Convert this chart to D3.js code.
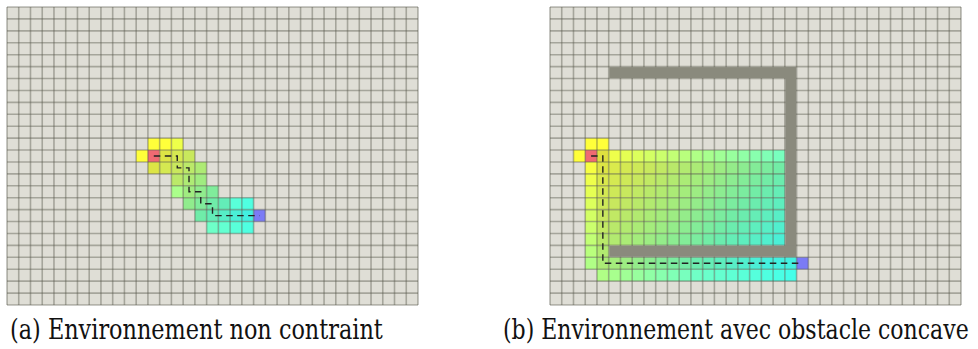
<!DOCTYPE html>
<html lang="fr">
<head>
  <meta charset="UTF-8" />
  <title>Exploration A* sur grille</title>
  <style>
    body { margin: 0; background: #fff; }
    svg { display: block; }
  </style>
</head>
<body>
  <div id="chart"></div>

  <script src="https://cdn.jsdelivr.net/npm/d3@7"></script>
  <script>
    const width = 978;
    const height = 349;
    const nCols = 35;
    const nRows = 25;

    // explored cells, one entry per grid row:
    // [row, first column, distance to goal of each cell, state of each cell]
    // state: o = open, c = closed, s = start, g = goal
    const exploredA = [
      [11, 12, [15, 14, 13], 'ooo'],
      [12, 11, [15, 14, 13, 12, 11], 'osccc'],
      [13, 12, [13, 12, 11, 10, 9], 'ccccc'],
      [14, 14, [10, 9, 8], 'ccc'],
      [15, 14, [9, 8, 7, 6], 'occc'],
      [16, 15, [7, 6, 5, 4, 3, 2], 'ccccoo'],
      [17, 16, [5, 4, 3, 2, 1, 0], 'cccccg'],
      [18, 17, [5, 4, 3, 2], 'oooo']
    ];
    const pathA = [[12, 12], [14, 12], [14, 13], [15, 13], [15, 15], [16, 15], [16, 16], [17, 16], [17, 17], [21, 17]];

    const exploredB = [
      [11, 3, [28, 27], 'oo'],
      [12, 2, [28, 27, 26, 25, 24, 23, 22, 21, 20, 19, 18, 17, 16, 15, 14, 13, 12, 11], 'oscooooooooooooooo'],
      [13, 3, [26, 25, 24, 23, 22, 21, 20, 19, 18, 17, 16, 15, 14, 13, 12, 11, 10], 'occcccccccccccccc'],
      [14, 3, [25, 24, 23, 22, 21, 20, 19, 18, 17, 16, 15, 14, 13, 12, 11, 10, 9], 'occcccccccccccccc'],
      [15, 3, [24, 23, 22, 21, 20, 19, 18, 17, 16, 15, 14, 13, 12, 11, 10, 9, 8], 'occcccccccccccccc'],
      [16, 3, [23, 22, 21, 20, 19, 18, 17, 16, 15, 14, 13, 12, 11, 10, 9, 8, 7], 'occcccccccccccccc'],
      [17, 3, [22, 21, 20, 19, 18, 17, 16, 15, 14, 13, 12, 11, 10, 9, 8, 7, 6], 'occcccccccccccccc'],
      [18, 3, [21, 20, 19, 18, 17, 16, 15, 14, 13, 12, 11, 10, 9, 8, 7, 6, 5], 'occcccccccccccccc'],
      [19, 3, [20, 19, 18, 17, 16, 15, 14, 13, 12, 11, 10, 9, 8, 7, 6, 5, 4], 'occcccccccccccccc'],
      [20, 3, [19, 18], 'oc'],
      [21, 3, [18, 17, 16, 15, 14, 13, 12, 11, 10, 9, 8, 7, 6, 5, 4, 3, 2, 1, 0], 'occcccccccccccccccg'],
      [22, 4, [18, 17, 16, 15, 14, 13, 12, 11, 10, 9, 8, 7, 6, 5, 4, 3, 2], 'ooooooooooooooooo']
    ];
    // obstacle bars: [col0, row0, col1, row1] (inclusive)
    const obstacleB = [[5, 5, 20, 5], [20, 5, 20, 20], [5, 20, 20, 20]];
    const pathB = [[3, 12], [4, 12], [4, 21], [21, 21]];

    const captions = ['(a) Environnement non contraint', '(b) Environnement avec obstacle concave'];

    // colour = remaining distance / start distance (1 at start, 0 at goal)
    const openColor = d3.scaleLinear()
      .domain([1, 0.64, 0.36, 0])
      .range(['#ffff3a', '#aaff8c', '#6effc8', '#3afff2'])
      .clamp(true);
    const closedColor = d3.scaleLinear()
      .domain([1, 0.9, 0.78, 0.57, 0.36, 0.1])
      .range(['#e0da38', '#dcea4a', '#c8e85e', '#a0ec80', '#70eca8', '#42f0e0'])
      .clamp(true);

    const panels = [
      { x0: 7, x1: 418, explored: exploredA, path: pathA, obstacles: [], caption: captions[0], captionX: 10, captionW: 373 },
      { x0: 550, x1: 961, explored: exploredB, path: pathB, obstacles: obstacleB, caption: captions[1], captionX: 503, captionW: 466 }
    ];

    const svg = d3.select('#chart')
      .append('svg')
      .attr('width', width)
      .attr('height', height);

    svg.append('rect')
      .attr('width', width)
      .attr('height', height)
      .attr('fill', '#fff');

    panels.forEach(p => {
      const g = svg.append('g');
      const x = d3.scaleLinear().domain([0, nCols]).range([p.x0, p.x1]);
      const y = d3.scaleLinear().domain([0, nRows]).range([7, 305]);

      const cells = [];
      p.explored.forEach(([row, c0, dists, states]) => {
        dists.forEach((d, i) => cells.push({ col: c0 + i, row, dist: d, state: states[i] || 'c' }));
      });
      const dStart = cells.find(c => c.state === 's').dist;

      g.append('rect')
        .attr('x', x(0))
        .attr('y', y(0))
        .attr('width', x(nCols) - x(0))
        .attr('height', y(nRows) - y(0))
        .attr('fill', '#dfded6');

      g.selectAll('rect.cell')
        .data(cells)
        .join('rect')
        .attr('class', 'cell')
        .attr('x', d => x(d.col))
        .attr('y', d => y(d.row))
        .attr('width', x(1) - x(0))
        .attr('height', y(1) - y(0))
        .attr('fill', d => {
          if (d.state === 's') return '#f06a72';
          if (d.state === 'g') return '#7b7bf6';
          const r = d.dist / dStart;
          return d.state === 'o' ? openColor(r) : closedColor(r);
        });

      // grid
      g.selectAll('line.v')
        .data(d3.range(nCols + 1))
        .join('line')
        .attr('class', 'v')
        .attr('x1', d => x(d)).attr('x2', d => x(d))
        .attr('y1', y(0)).attr('y2', y(nRows))
        .attr('stroke', '#55554a')
        .attr('stroke-opacity', 0.42)
        .attr('stroke-width', 1.6);
      g.selectAll('line.h')
        .data(d3.range(nRows + 1))
        .join('line')
        .attr('class', 'h')
        .attr('x1', x(0)).attr('x2', x(nCols))
        .attr('y1', d => y(d)).attr('y2', d => y(d))
        .attr('stroke', '#55554a')
        .attr('stroke-opacity', 0.42)
        .attr('stroke-width', 1.6);

      // obstacles
      g.selectAll('rect.obstacle')
        .data(p.obstacles)
        .join('rect')
        .attr('class', 'obstacle')
        .attr('x', d => x(d[0]) + 0.5)
        .attr('y', d => y(d[1]) + 0.5)
        .attr('width', d => x(d[2] + 1) - x(d[0]) - 1)
        .attr('height', d => y(d[3] + 1) - y(d[1]) - 1)
        .attr('fill', '#8a8a7d');

      // path
      const line = d3.line()
        .x(d => x(d[0] + 0.5))
        .y(d => y(d[1] + 0.5));
      g.append('path')
        .attr('d', line(p.path))
        .attr('fill', 'none')
        .attr('stroke', '#222')
        .attr('stroke-width', 1.4)
        .attr('stroke-dasharray', '6.5,4.5');

      // caption, squeezed horizontally to the width it has in the figure
      const cap = g.append('text')
        .attr('x', 0)
        .attr('y', 0)
        .style('font-family', 'DejaVu Serif')
        .attr('font-size', 27)
        .attr('fill', '#111')
        .text(p.caption);
      const natural = cap.node().getComputedTextLength() || p.captionW;
      const k = Math.min(1, p.captionW / natural);
      cap.attr('transform', `translate(${p.captionX},339) scale(${k},1)`);
    });
  </script>
</body>
</html>
